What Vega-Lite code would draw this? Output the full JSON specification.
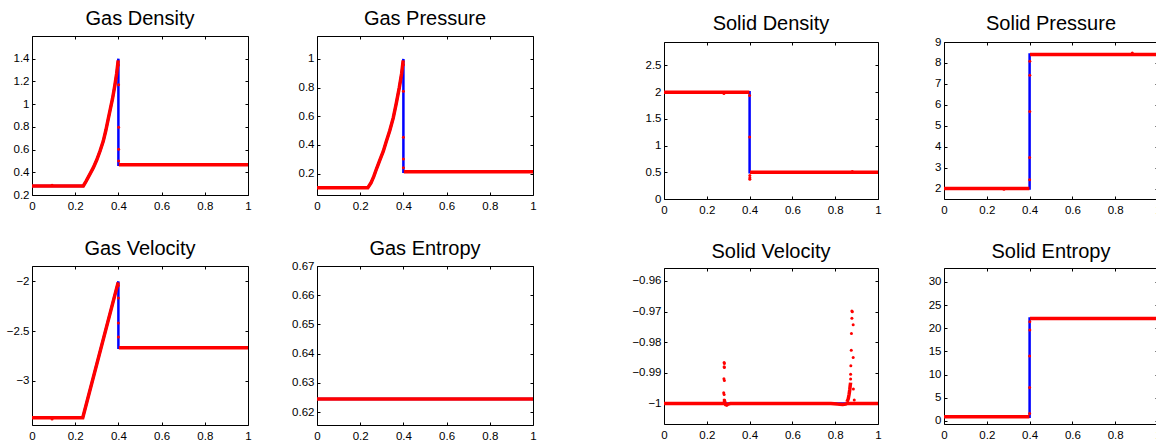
{
  "$schema": "https://vega.github.io/schema/vega-lite/v6.json",
  "padding": {"left": 6, "top": 8, "right": 0, "bottom": 0},
  "background": "white",
  "datasets": {
    "gd": [
      {"k":"e","x":0,"y":0.28},{"k":"e","x":0.2375,"y":0.28},{"k":"e","x":0.25,"y":0.32},{"k":"e","x":0.26,"y":0.355},{"k":"e","x":0.27,"y":0.39},{"k":"e","x":0.284,"y":0.441},{"k":"e","x":0.3,"y":0.51},{"k":"e","x":0.315,"y":0.587},{"k":"e","x":0.33,"y":0.675},{"k":"e","x":0.342,"y":0.77},{"k":"e","x":0.353,"y":0.87},{"k":"e","x":0.363,"y":0.96},{"k":"e","x":0.373,"y":1.05},{"k":"e","x":0.384,"y":1.17},{"k":"e","x":0.392,"y":1.27},{"k":"e","x":0.4,"y":1.4},{"k":"e","x":0.4,"y":0.467},{"k":"e","x":1,"y":0.467},
      {"k":"n","s":"a","x":0,"y":0.28},{"k":"n","s":"a","x":0.2375,"y":0.28},{"k":"n","s":"a","x":0.25,"y":0.32},{"k":"n","s":"a","x":0.26,"y":0.355},{"k":"n","s":"a","x":0.27,"y":0.39},{"k":"n","s":"a","x":0.284,"y":0.441},{"k":"n","s":"a","x":0.3,"y":0.51},{"k":"n","s":"a","x":0.315,"y":0.587},{"k":"n","s":"a","x":0.33,"y":0.675},{"k":"n","s":"a","x":0.342,"y":0.77},{"k":"n","s":"a","x":0.353,"y":0.87},{"k":"n","s":"a","x":0.363,"y":0.96},{"k":"n","s":"a","x":0.373,"y":1.05},{"k":"n","s":"a","x":0.384,"y":1.17},{"k":"n","s":"a","x":0.392,"y":1.27},{"k":"n","s":"a","x":0.399,"y":1.385},
      {"k":"n","s":"b","x":0.402,"y":0.467},{"k":"n","s":"b","x":1,"y":0.467},
      {"k":"p","x":0.4,"y":1.345},{"k":"p","x":0.401,"y":1.17},{"k":"p","x":0.401,"y":0.797},{"k":"p","x":0.401,"y":0.602},{"k":"p","x":0.401,"y":0.5},{"k":"p","x":0.093,"y":0.285}
    ],
    "gp": [
      {"k":"e","x":0,"y":0.1},{"k":"e","x":0.235,"y":0.1},{"k":"e","x":0.25,"y":0.135},{"k":"e","x":0.263,"y":0.18},{"k":"e","x":0.276,"y":0.235},{"k":"e","x":0.29,"y":0.29},{"k":"e","x":0.307,"y":0.356},{"k":"e","x":0.32,"y":0.42},{"k":"e","x":0.337,"y":0.5},{"k":"e","x":0.353,"y":0.588},{"k":"e","x":0.367,"y":0.69},{"k":"e","x":0.381,"y":0.8},{"k":"e","x":0.392,"y":0.9},{"k":"e","x":0.4,"y":1.0},{"k":"e","x":0.4,"y":0.213},{"k":"e","x":1,"y":0.213},
      {"k":"n","s":"a","x":0,"y":0.1},{"k":"n","s":"a","x":0.235,"y":0.1},{"k":"n","s":"a","x":0.25,"y":0.135},{"k":"n","s":"a","x":0.263,"y":0.18},{"k":"n","s":"a","x":0.276,"y":0.235},{"k":"n","s":"a","x":0.29,"y":0.29},{"k":"n","s":"a","x":0.307,"y":0.356},{"k":"n","s":"a","x":0.32,"y":0.42},{"k":"n","s":"a","x":0.337,"y":0.5},{"k":"n","s":"a","x":0.353,"y":0.588},{"k":"n","s":"a","x":0.367,"y":0.69},{"k":"n","s":"a","x":0.381,"y":0.8},{"k":"n","s":"a","x":0.392,"y":0.9},{"k":"n","s":"a","x":0.399,"y":0.99},
      {"k":"n","s":"b","x":0.402,"y":0.213},{"k":"n","s":"b","x":1,"y":0.213},
      {"k":"p","x":0.4,"y":0.96},{"k":"p","x":0.4,"y":0.775},{"k":"p","x":0.4,"y":0.453},{"k":"p","x":0.4,"y":0.302},{"k":"p","x":0.4,"y":0.24}
    ],
    "gv": [
      {"k":"e","x":0,"y":-3.37},{"k":"e","x":0.235,"y":-3.37},{"k":"e","x":0.4,"y":-2.0},{"k":"e","x":0.4,"y":-2.668},{"k":"e","x":1,"y":-2.668},
      {"k":"n","s":"a","x":0,"y":-3.37},{"k":"n","s":"a","x":0.235,"y":-3.37},{"k":"n","s":"a","x":0.399,"y":-2.01},
      {"k":"n","s":"b","x":0.402,"y":-2.668},{"k":"n","s":"b","x":1,"y":-2.668},
      {"k":"p","x":0.4,"y":-2.04},{"k":"p","x":0.4,"y":-2.166},{"k":"p","x":0.4,"y":-2.418},{"k":"p","x":0.4,"y":-2.56},{"k":"p","x":0.093,"y":-3.383}
    ],
    "ge": [
      {"k":"e","x":0,"y":0.6245},{"k":"e","x":1,"y":0.6245},
      {"k":"n","s":"a","x":0,"y":0.6245},{"k":"n","s":"a","x":1,"y":0.6245}
    ],
    "sd": [
      {"k":"e","x":0,"y":2},{"k":"e","x":0.4,"y":2},{"k":"e","x":0.4,"y":0.5},{"k":"e","x":1,"y":0.5},
      {"k":"n","s":"a","x":0,"y":2},{"k":"n","s":"a","x":0.399,"y":2},
      {"k":"n","s":"b","x":0.402,"y":0.5},{"k":"n","s":"b","x":1,"y":0.5},
      {"k":"p","x":0.4,"y":1.936},{"k":"p","x":0.4,"y":1.161},{"k":"p","x":0.401,"y":0.44},{"k":"p","x":0.401,"y":0.4},{"k":"p","x":0.401,"y":0.37},{"k":"p","x":0.28,"y":1.975},{"k":"p","x":0.88,"y":0.515}
    ],
    "sp": [
      {"k":"e","x":0,"y":2},{"k":"e","x":0.4,"y":2},{"k":"e","x":0.4,"y":8.4},{"k":"e","x":1,"y":8.4},
      {"k":"n","s":"a","x":0,"y":2},{"k":"n","s":"a","x":0.399,"y":2},
      {"k":"n","s":"b","x":0.402,"y":8.4},{"k":"n","s":"b","x":1,"y":8.4},
      {"k":"p","x":0.4,"y":2.42},{"k":"p","x":0.4,"y":3.48},{"k":"p","x":0.401,"y":5.68},{"k":"p","x":0.401,"y":7.41},{"k":"p","x":0.401,"y":8.08},{"k":"p","x":0.88,"y":8.47},{"k":"p","x":0.28,"y":1.96}
    ],
    "sv": [
      {"k":"e","x":0,"y":-1},{"k":"e","x":1,"y":-1},
      {"k":"n","s":"a","x":0,"y":-1},{"k":"n","s":"a","x":0.276,"y":-1},{"k":"n","s":"a","x":0.284,"y":-0.9995},{"k":"n","s":"a","x":0.288,"y":-1.0004},{"k":"n","s":"a","x":0.293,"y":-1.0005},{"k":"n","s":"a","x":0.3,"y":-1.0002},{"k":"n","s":"a","x":0.31,"y":-1},{"k":"n","s":"a","x":0.78,"y":-1},{"k":"n","s":"a","x":0.81,"y":-1.0002},{"k":"n","s":"a","x":0.835,"y":-1.0003},{"k":"n","s":"a","x":0.85,"y":-1.0002},{"k":"n","s":"a","x":0.856,"y":-1.0},{"k":"n","s":"a","x":0.89,"y":-1},{"k":"n","s":"a","x":1,"y":-1},
      {"k":"n","s":"b","x":0.855,"y":-0.9995},{"k":"n","s":"b","x":0.861,"y":-0.9985},{"k":"n","s":"b","x":0.865,"y":-0.997},{"k":"n","s":"b","x":0.868,"y":-0.9955},{"k":"n","s":"b","x":0.87,"y":-0.9942},{"k":"n","s":"b","x":0.872,"y":-0.9932},
      {"k":"p","x":0.281,"y":-0.98665},{"k":"p","x":0.282,"y":-0.987},{"k":"p","x":0.281,"y":-0.988},{"k":"p","x":0.282,"y":-0.9883},{"k":"p","x":0.28,"y":-0.9919},{"k":"p","x":0.282,"y":-0.9925},{"k":"p","x":0.279,"y":-0.9965},{"k":"p","x":0.281,"y":-0.9971},{"k":"p","x":0.281,"y":-0.9989},
      {"k":"p","x":0.878,"y":-0.9698},{"k":"p","x":0.88,"y":-0.9701},{"k":"p","x":0.878,"y":-0.9722},{"k":"p","x":0.884,"y":-0.9743},{"k":"p","x":0.876,"y":-0.9772},{"k":"p","x":0.875,"y":-0.9826},{"k":"p","x":0.884,"y":-0.985},{"k":"p","x":0.873,"y":-0.9877},{"k":"p","x":0.872,"y":-0.9905},{"k":"p","x":0.872,"y":-0.992},{"k":"p","x":0.885,"y":-0.9953},{"k":"p","x":0.889,"y":-0.9989}
    ],
    "se": [
      {"k":"e","x":0,"y":0.9},{"k":"e","x":0.4,"y":0.9},{"k":"e","x":0.4,"y":22.1},{"k":"e","x":1,"y":22.1},
      {"k":"n","s":"a","x":0,"y":0.9},{"k":"n","s":"a","x":0.399,"y":0.9},
      {"k":"n","s":"b","x":0.402,"y":22.1},{"k":"n","s":"b","x":1,"y":22.1},
      {"k":"p","x":0.4,"y":1.64},{"k":"p","x":0.4,"y":7.24},{"k":"p","x":0.4,"y":14.0},{"k":"p","x":0.401,"y":19.6},{"k":"p","x":0.401,"y":21.4}
    ]
  },
  "hconcat": [
    {
      "columns": 2,
      "bounds": "flush",
      "spacing": {"row": 71, "column": 69},
      "concat": [
        {
          "width": 216, "height": 159,
          "title": {"text": "Gas Density", "offset": 7},
          "data": {"name": "gd"},
          "layer": [
            {"transform": [{"filter": "datum.k == 'e'"}], "mark": {"type": "line", "color": "#0000ff", "strokeWidth": 2.5},
             "encoding": {"x": {"field": "x", "type": "quantitative", "title": null, "scale": {"domain": [0, 1]}, "axis": {"orient": "bottom", "values": [0, 0.2, 0.4, 0.6, 0.8, 1], "format": "~g", "labelPadding": 8}},
                          "y": {"field": "y", "type": "quantitative", "title": null, "scale": {"domain": [0.2, 1.6], "nice": false, "zero": false}, "axis": {"orient": "left", "values": [0.2, 0.4, 0.6, 0.8, 1, 1.2, 1.4], "format": "~g", "labelPadding": 6}}}},
            {"transform": [{"filter": "datum.k == 'n'"}], "mark": {"type": "line", "color": "#ff0000", "strokeWidth": 3.5},
             "encoding": {"detail": {"field": "s"}, "x": {"field": "x", "type": "quantitative", "title": null, "scale": {"domain": [0, 1]}, "axis": {"orient": "top", "values": [0, 0.2, 0.4, 0.6, 0.8, 1], "labels": false}},
                          "y": {"field": "y", "type": "quantitative", "title": null, "scale": {"domain": [0.2, 1.6], "nice": false, "zero": false}, "axis": {"orient": "right", "values": [0.2, 0.4, 0.6, 0.8, 1, 1.2, 1.4], "labels": false}}}},
            {"transform": [{"filter": "datum.k == 'p'"}], "mark": {"type": "point", "filled": true, "color": "#ff0000", "size": 9, "opacity": 1},
             "encoding": {"x": {"field": "x", "type": "quantitative", "axis": null}, "y": {"field": "y", "type": "quantitative", "axis": null}}}
          ],
          "resolve": {"axis": {"x": "independent", "y": "independent"}}
        },
        {
          "width": 216, "height": 159,
          "title": {"text": "Gas Pressure", "offset": 7},
          "data": {"name": "gp"},
          "layer": [
            {"transform": [{"filter": "datum.k == 'e'"}], "mark": {"type": "line", "color": "#0000ff", "strokeWidth": 2.5},
             "encoding": {"x": {"field": "x", "type": "quantitative", "title": null, "scale": {"domain": [0, 1]}, "axis": {"orient": "bottom", "values": [0, 0.2, 0.4, 0.6, 0.8, 1], "format": "~g", "labelPadding": 8}},
                          "y": {"field": "y", "type": "quantitative", "title": null, "scale": {"domain": [0.05, 1.16], "nice": false, "zero": false}, "axis": {"orient": "left", "values": [0.2, 0.4, 0.6, 0.8, 1], "format": "~g", "labelPadding": 6}}}},
            {"transform": [{"filter": "datum.k == 'n'"}], "mark": {"type": "line", "color": "#ff0000", "strokeWidth": 3.5},
             "encoding": {"detail": {"field": "s"}, "x": {"field": "x", "type": "quantitative", "title": null, "scale": {"domain": [0, 1]}, "axis": {"orient": "top", "values": [0, 0.2, 0.4, 0.6, 0.8, 1], "labels": false}},
                          "y": {"field": "y", "type": "quantitative", "title": null, "scale": {"domain": [0.05, 1.16], "nice": false, "zero": false}, "axis": {"orient": "right", "values": [0.2, 0.4, 0.6, 0.8, 1], "labels": false}}}},
            {"transform": [{"filter": "datum.k == 'p'"}], "mark": {"type": "point", "filled": true, "color": "#ff0000", "size": 9, "opacity": 1},
             "encoding": {"x": {"field": "x", "type": "quantitative", "axis": null}, "y": {"field": "y", "type": "quantitative", "axis": null}}}
          ],
          "resolve": {"axis": {"x": "independent", "y": "independent"}}
        },
        {
          "width": 216, "height": 159,
          "title": {"text": "Gas Velocity", "offset": 7},
          "data": {"name": "gv"},
          "layer": [
            {"transform": [{"filter": "datum.k == 'e'"}], "mark": {"type": "line", "color": "#0000ff", "strokeWidth": 2.5},
             "encoding": {"x": {"field": "x", "type": "quantitative", "title": null, "scale": {"domain": [0, 1]}, "axis": {"orient": "bottom", "values": [0, 0.2, 0.4, 0.6, 0.8, 1], "format": "~g", "labelPadding": 8}},
                          "y": {"field": "y", "type": "quantitative", "title": null, "scale": {"domain": [-3.444, -1.845], "nice": false, "zero": false}, "axis": {"orient": "left", "values": [-3, -2.5, -2], "format": "~g", "labelPadding": 6}}}},
            {"transform": [{"filter": "datum.k == 'n'"}], "mark": {"type": "line", "color": "#ff0000", "strokeWidth": 3.5},
             "encoding": {"detail": {"field": "s"}, "x": {"field": "x", "type": "quantitative", "title": null, "scale": {"domain": [0, 1]}, "axis": {"orient": "top", "values": [0, 0.2, 0.4, 0.6, 0.8, 1], "labels": false}},
                          "y": {"field": "y", "type": "quantitative", "title": null, "scale": {"domain": [-3.444, -1.845], "nice": false, "zero": false}, "axis": {"orient": "right", "values": [-3, -2.5, -2], "labels": false}}}},
            {"transform": [{"filter": "datum.k == 'p'"}], "mark": {"type": "point", "filled": true, "color": "#ff0000", "size": 9, "opacity": 1},
             "encoding": {"x": {"field": "x", "type": "quantitative", "axis": null}, "y": {"field": "y", "type": "quantitative", "axis": null}}}
          ],
          "resolve": {"axis": {"x": "independent", "y": "independent"}}
        },
        {
          "width": 216, "height": 159,
          "title": {"text": "Gas Entropy", "offset": 1},
          "data": {"name": "ge"},
          "layer": [
            {"transform": [{"filter": "datum.k == 'e'"}], "mark": {"type": "line", "color": "#0000ff", "strokeWidth": 2.5},
             "encoding": {"x": {"field": "x", "type": "quantitative", "title": null, "scale": {"domain": [0, 1]}, "axis": {"orient": "bottom", "values": [0, 0.2, 0.4, 0.6, 0.8, 1], "format": "~g", "labelPadding": 8}},
                          "y": {"field": "y", "type": "quantitative", "title": null, "scale": {"domain": [0.6156, 0.67], "nice": false, "zero": false}, "axis": {"orient": "left", "values": [0.62, 0.63, 0.64, 0.65, 0.66, 0.67], "format": "~g", "labelPadding": 6}}}},
            {"transform": [{"filter": "datum.k == 'n'"}], "mark": {"type": "line", "color": "#ff0000", "strokeWidth": 3.5},
             "encoding": {"detail": {"field": "s"}, "x": {"field": "x", "type": "quantitative", "title": null, "scale": {"domain": [0, 1]}, "axis": {"orient": "top", "values": [0, 0.2, 0.4, 0.6, 0.8, 1], "labels": false}},
                          "y": {"field": "y", "type": "quantitative", "title": null, "scale": {"domain": [0.6156, 0.67], "nice": false, "zero": false}, "axis": {"orient": "right", "values": [0.62, 0.63, 0.64, 0.65, 0.66, 0.67], "labels": false}}}}
          ],
          "resolve": {"axis": {"x": "independent", "y": "independent"}}
        }
      ]
    },
    {
      "columns": 2,
      "bounds": "flush",
      "spacing": {"row": 69, "column": 66},
      "concat": [
        {
          "width": 214, "height": 163,
          "title": {"text": "Solid Density", "offset": 2},
          "data": {"name": "sd"},
          "layer": [
            {"transform": [{"filter": "datum.k == 'e'"}], "mark": {"type": "line", "color": "#0000ff", "strokeWidth": 2.5},
             "encoding": {"x": {"field": "x", "type": "quantitative", "title": null, "scale": {"domain": [0, 1]}, "axis": {"orient": "bottom", "values": [0, 0.2, 0.4, 0.6, 0.8, 1], "format": "~g", "labelPadding": 8}},
                          "y": {"field": "y", "type": "quantitative", "title": null, "scale": {"domain": [0, 2.94], "range": [163, 6], "nice": false, "zero": false}, "axis": {"orient": "left", "values": [0, 0.5, 1, 1.5, 2, 2.5], "format": "~g", "labelPadding": 6}}}},
            {"transform": [{"filter": "datum.k == 'n'"}], "mark": {"type": "line", "color": "#ff0000", "strokeWidth": 3.5},
             "encoding": {"detail": {"field": "s"}, "x": {"field": "x", "type": "quantitative", "title": null, "scale": {"domain": [0, 1]}, "axis": {"orient": "top", "offset": -6, "values": [0, 0.2, 0.4, 0.6, 0.8, 1], "labels": false}},
                          "y": {"field": "y", "type": "quantitative", "title": null, "scale": {"domain": [0, 2.94], "range": [163, 6], "nice": false, "zero": false}, "axis": {"orient": "right", "values": [0, 0.5, 1, 1.5, 2, 2.5], "labels": false}}}},
            {"transform": [{"filter": "datum.k == 'p'"}], "mark": {"type": "point", "filled": true, "color": "#ff0000", "size": 9, "opacity": 1},
             "encoding": {"x": {"field": "x", "type": "quantitative", "axis": null}, "y": {"field": "y", "type": "quantitative", "axis": null}}}
          ],
          "resolve": {"axis": {"x": "independent", "y": "independent"}}
        },
        {
          "width": 214, "height": 163,
          "title": {"text": "Solid Pressure", "offset": 2},
          "data": {"name": "sp"},
          "layer": [
            {"transform": [{"filter": "datum.k == 'e'"}], "mark": {"type": "line", "color": "#0000ff", "strokeWidth": 2.5},
             "encoding": {"x": {"field": "x", "type": "quantitative", "title": null, "scale": {"domain": [0, 1]}, "axis": {"orient": "bottom", "values": [0, 0.2, 0.4, 0.6, 0.8, 1], "format": "~g", "labelPadding": 8}},
                          "y": {"field": "y", "type": "quantitative", "title": null, "scale": {"domain": [1.5, 9], "range": [163, 6], "nice": false, "zero": false}, "axis": {"orient": "left", "values": [2, 3, 4, 5, 6, 7, 8, 9], "format": "~g", "labelPadding": 6}}}},
            {"transform": [{"filter": "datum.k == 'n'"}], "mark": {"type": "line", "color": "#ff0000", "strokeWidth": 3.5},
             "encoding": {"detail": {"field": "s"}, "x": {"field": "x", "type": "quantitative", "title": null, "scale": {"domain": [0, 1]}, "axis": {"orient": "top", "offset": -6, "values": [0, 0.2, 0.4, 0.6, 0.8, 1], "labels": false}},
                          "y": {"field": "y", "type": "quantitative", "title": null, "scale": {"domain": [1.5, 9], "range": [163, 6], "nice": false, "zero": false}, "axis": {"orient": "right", "values": [2, 3, 4, 5, 6, 7, 8, 9], "labels": false}}}},
            {"transform": [{"filter": "datum.k == 'p'"}], "mark": {"type": "point", "filled": true, "color": "#ff0000", "size": 9, "opacity": 1},
             "encoding": {"x": {"field": "x", "type": "quantitative", "axis": null}, "y": {"field": "y", "type": "quantitative", "axis": null}}}
          ],
          "resolve": {"axis": {"x": "independent", "y": "independent"}}
        },
        {
          "width": 214, "height": 156,
          "title": {"text": "Solid Velocity", "offset": 6},
          "data": {"name": "sv"},
          "layer": [
            {"transform": [{"filter": "datum.k == 'e'"}], "mark": {"type": "line", "color": "#0000ff", "strokeWidth": 2.5},
             "encoding": {"x": {"field": "x", "type": "quantitative", "title": null, "scale": {"domain": [0, 1]}, "axis": {"orient": "bottom", "values": [0, 0.2, 0.4, 0.6, 0.8, 1], "format": "~g", "labelPadding": 8}},
                          "y": {"field": "y", "type": "quantitative", "title": null, "scale": {"domain": [-1.0067, -0.9558], "nice": false, "zero": false}, "axis": {"orient": "left", "values": [-1, -0.99, -0.98, -0.97, -0.96], "format": "~g", "labelPadding": 6}}}},
            {"transform": [{"filter": "datum.k == 'n'"}], "mark": {"type": "line", "color": "#ff0000", "strokeWidth": 3.5},
             "encoding": {"detail": {"field": "s"}, "x": {"field": "x", "type": "quantitative", "title": null, "scale": {"domain": [0, 1]}, "axis": {"orient": "top", "values": [0, 0.2, 0.4, 0.6, 0.8, 1], "labels": false}},
                          "y": {"field": "y", "type": "quantitative", "title": null, "scale": {"domain": [-1.0067, -0.9558], "nice": false, "zero": false}, "axis": {"orient": "right", "values": [-1, -0.99, -0.98, -0.97, -0.96], "labels": false}}}},
            {"transform": [{"filter": "datum.k == 'p'"}], "mark": {"type": "point", "filled": true, "color": "#ff0000", "size": 9, "opacity": 1},
             "encoding": {"x": {"field": "x", "type": "quantitative", "axis": null}, "y": {"field": "y", "type": "quantitative", "axis": null}}}
          ],
          "resolve": {"axis": {"x": "independent", "y": "independent"}}
        },
        {
          "width": 214, "height": 156,
          "title": {"text": "Solid Entropy", "offset": 6},
          "data": {"name": "se"},
          "layer": [
            {"transform": [{"filter": "datum.k == 'e'"}], "mark": {"type": "line", "color": "#0000ff", "strokeWidth": 2.5},
             "encoding": {"x": {"field": "x", "type": "quantitative", "title": null, "scale": {"domain": [0, 1]}, "axis": {"orient": "bottom", "values": [0, 0.2, 0.4, 0.6, 0.8, 1], "format": "~g", "labelPadding": 8}},
                          "y": {"field": "y", "type": "quantitative", "title": null, "scale": {"domain": [-0.65, 33], "nice": false, "zero": false}, "axis": {"orient": "left", "values": [0, 5, 10, 15, 20, 25, 30], "format": "~g", "labelPadding": 6}}}},
            {"transform": [{"filter": "datum.k == 'n'"}], "mark": {"type": "line", "color": "#ff0000", "strokeWidth": 3.5},
             "encoding": {"detail": {"field": "s"}, "x": {"field": "x", "type": "quantitative", "title": null, "scale": {"domain": [0, 1]}, "axis": {"orient": "top", "values": [0, 0.2, 0.4, 0.6, 0.8, 1], "labels": false}},
                          "y": {"field": "y", "type": "quantitative", "title": null, "scale": {"domain": [-0.65, 33], "nice": false, "zero": false}, "axis": {"orient": "right", "values": [0, 5, 10, 15, 20, 25, 30], "labels": false}}}},
            {"transform": [{"filter": "datum.k == 'p'"}], "mark": {"type": "point", "filled": true, "color": "#ff0000", "size": 9, "opacity": 1},
             "encoding": {"x": {"field": "x", "type": "quantitative", "axis": null}, "y": {"field": "y", "type": "quantitative", "axis": null}}}
          ],
          "resolve": {"axis": {"x": "independent", "y": "independent"}}
        }
      ]
    }
  ],
  "spacing": 91,
  "config": {
    "font": "Liberation Sans",
    "view": {"stroke": null},
    "axis": {"labelFont": "Liberation Sans", "labelFontSize": 11.5, "labelColor": "#000000", "domainColor": "#000000", "tickColor": "#000000", "tickSize": -3, "tickWidth": 1, "domainWidth": 1, "grid": false, "labelFlush": false, "labelOverlap": false},
    "title": {"font": "Liberation Sans", "fontSize": 20, "fontWeight": "normal", "color": "#000000", "anchor": "middle"}
  }
}
